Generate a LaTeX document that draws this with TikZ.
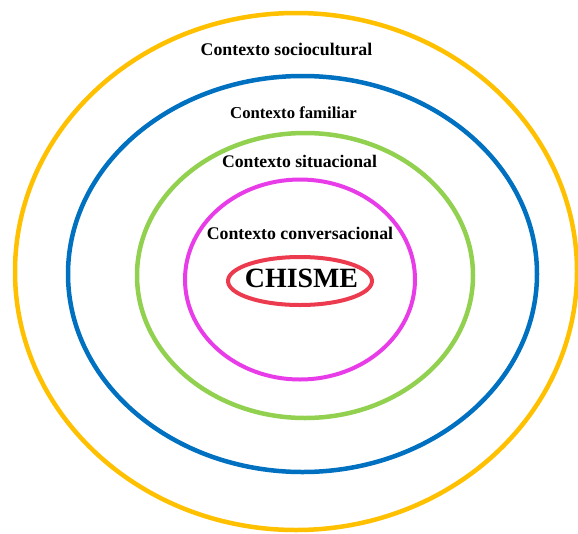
\documentclass[tikz,border=0pt]{standalone}
\usepackage{fontspec}
\setmainfont{Liberation Serif}
\usetikzlibrary{shapes.geometric}
\definecolor{cyellow}{HTML}{FFC000}
\definecolor{cblue}{HTML}{0070C0}
\definecolor{cgreen}{HTML}{92D050}
\definecolor{cmagenta}{HTML}{E83CE8}
\definecolor{cred}{HTML}{EC3A4E}
\begin{document}
\begin{tikzpicture}[x=1pt,y=-1pt,
  ring/.style={draw, ellipse, inner sep=0pt},
  lbl/.style={anchor=base, inner sep=0pt, font=\bfseries}]
\useasboundingbox (0,0) rectangle (578,533);
\node[ring, draw=cyellow, line width=4.5pt, minimum width=562pt, minimum height=517pt] (yellow) at (296,271.5) {};
\node[ring, draw=cblue, line width=4.5pt, minimum width=469pt, minimum height=396pt] (blue) at (302.5,274) {};
\node[ring, draw=cgreen, line width=4.5pt, minimum width=336pt, minimum height=285pt] (green) at (305,275.5) {};
\node[ring, draw=cmagenta, line width=4pt, minimum width=230pt, minimum height=200pt] (magenta) at (300,279.5) {};
\node[ring, draw=cred, line width=4pt, minimum width=144pt, minimum height=48pt] (red) at (300,281) {};
\node[lbl, font=\bfseries\fontsize{17.8}{20}\selectfont] (t1) at (286.5,55) {Contexto sociocultural};
\node[lbl, font=\bfseries\fontsize{16.7}{19}\selectfont] (t2) at (293.5,118) {Contexto familiar};
\node[lbl, font=\bfseries\fontsize{17.7}{20}\selectfont] (t3) at (299.5,167) {Contexto situacional};
\node[lbl, font=\bfseries\fontsize{17.8}{20}\selectfont] (t4) at (300,239) {Contexto conversacional};
\node[lbl, font=\bfseries\fontsize{27.9}{30}\selectfont] (t5) at (301.5,287) {CHISME};
\end{tikzpicture}
\end{document}
